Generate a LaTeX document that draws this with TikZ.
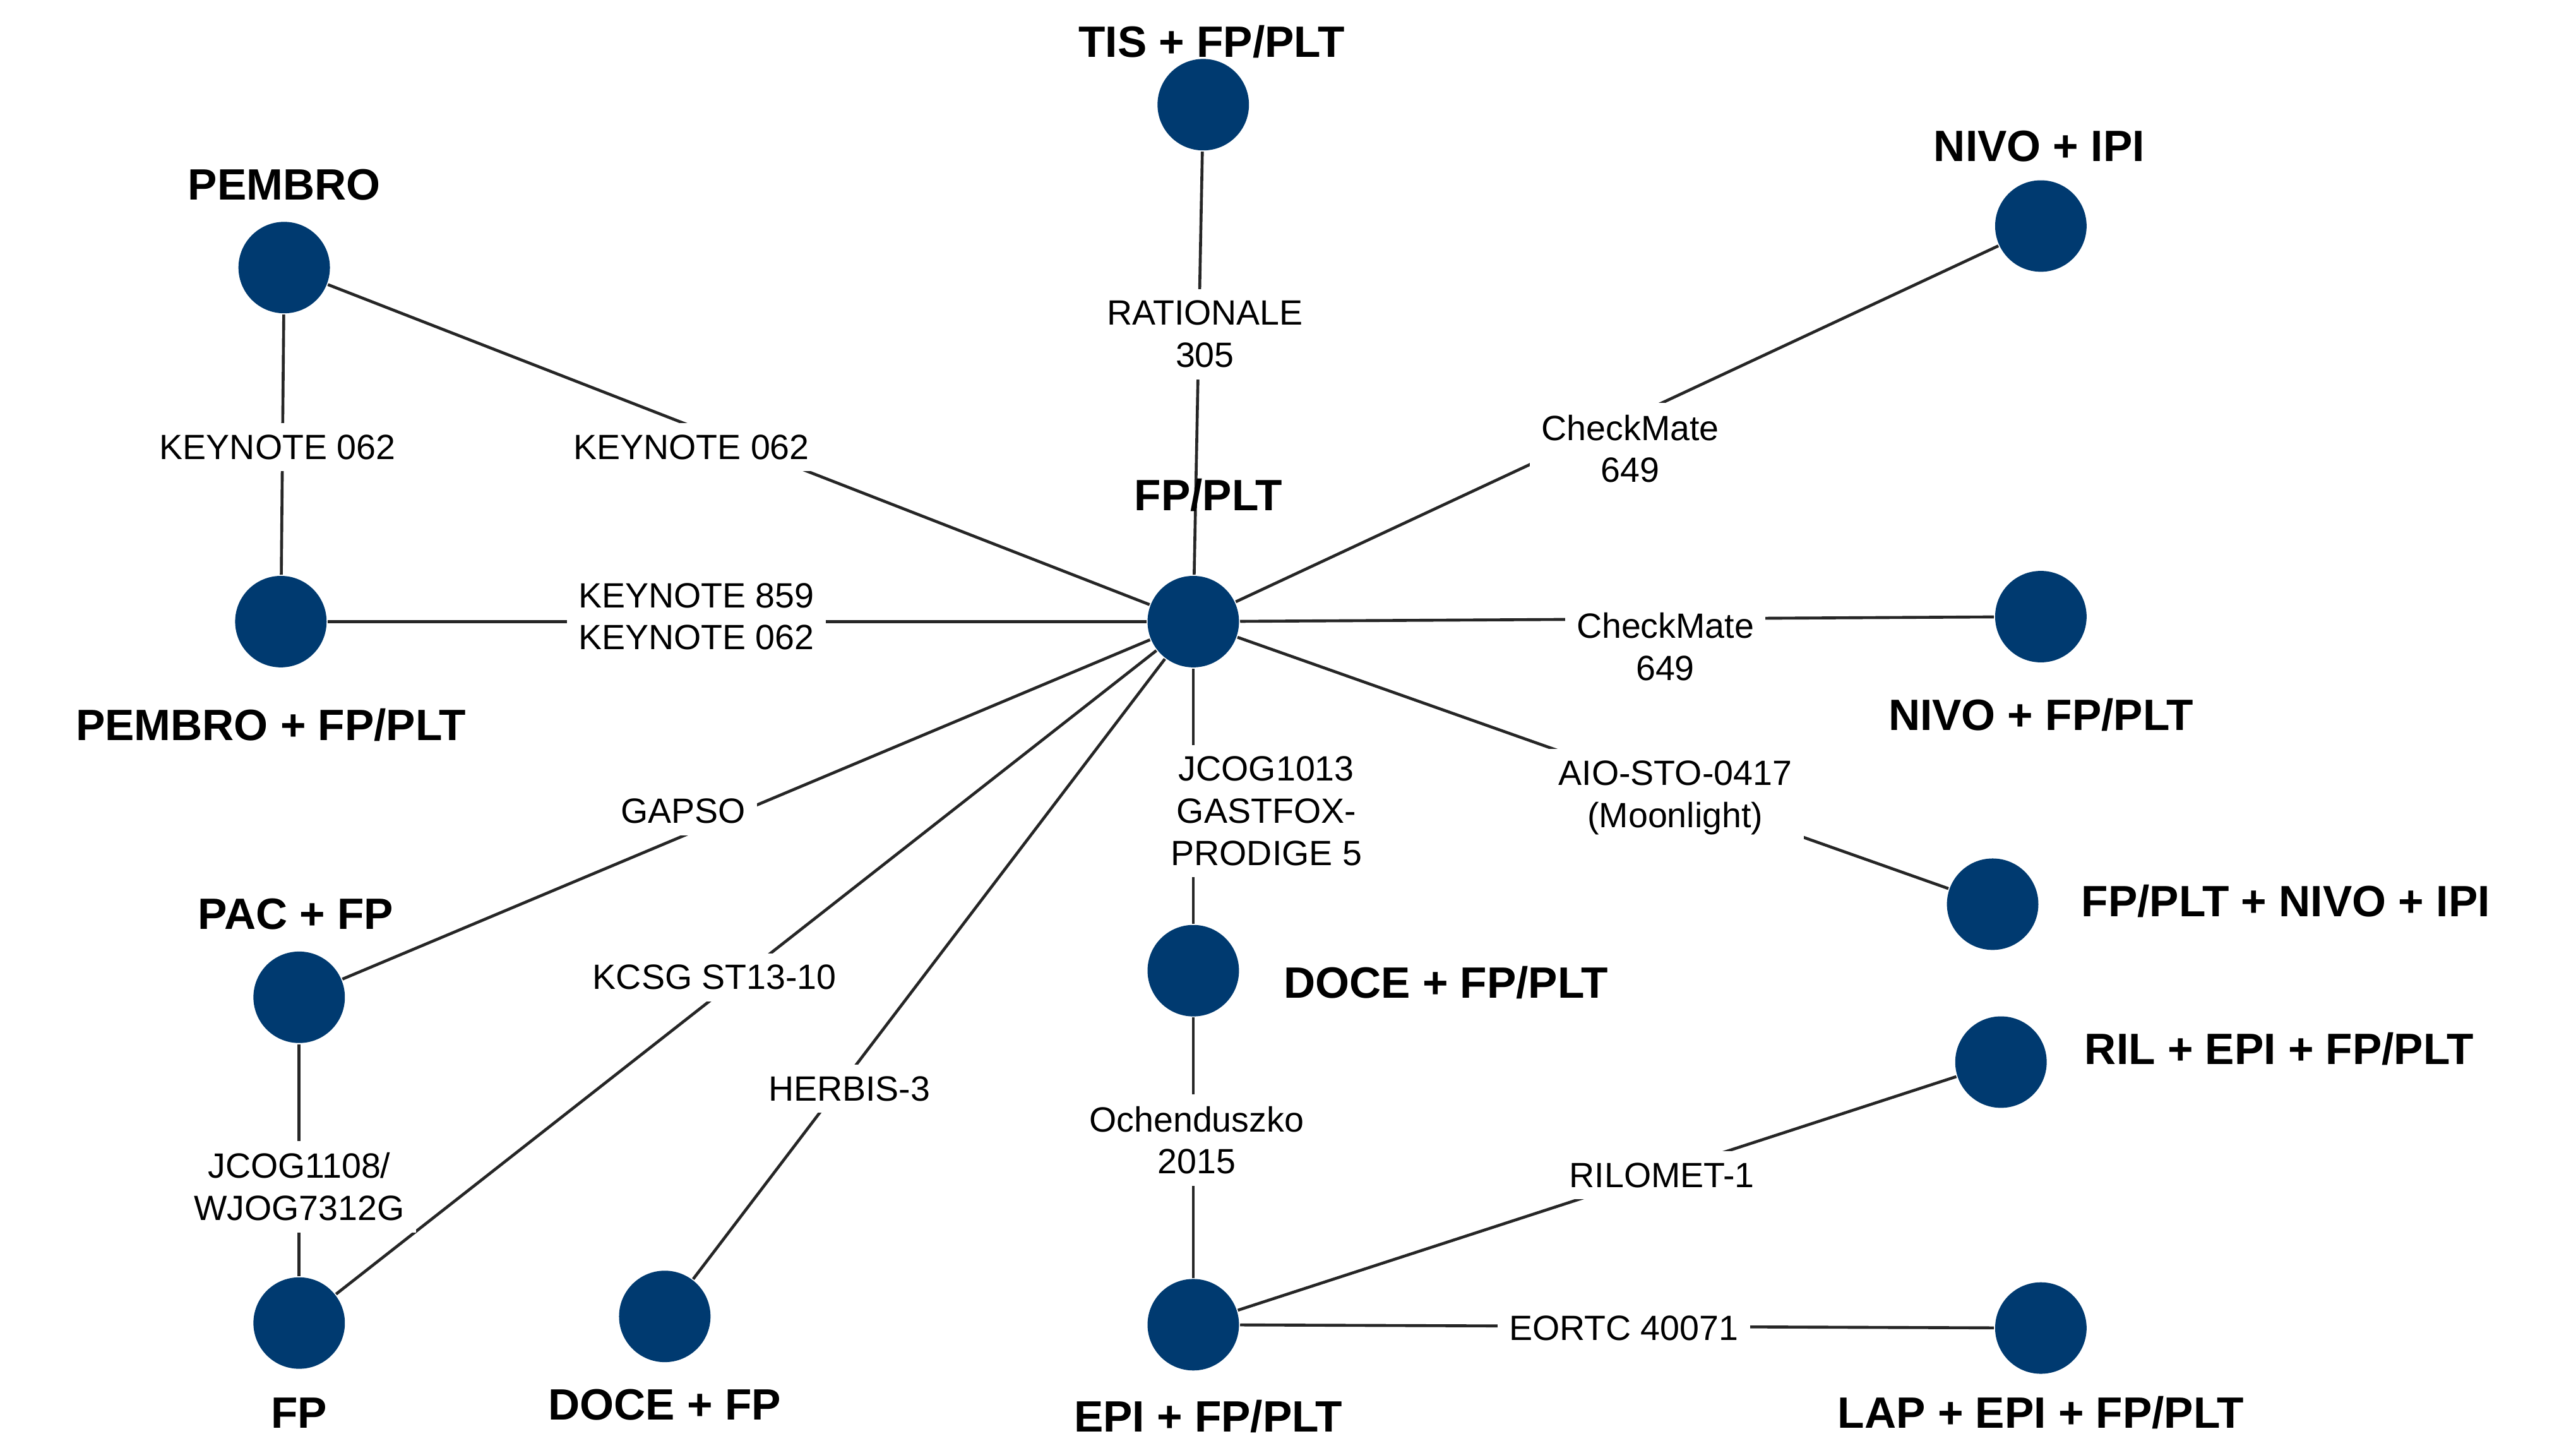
\documentclass[tikz,border=0pt]{standalone}
\usepackage{fontspec}
\setmainfont{Liberation Sans}
\begin{document}
\begin{tikzpicture}[x=0.01cm,y=-0.01cm,
  dot/.style={circle,fill=navy,minimum size=0.55cm,inner sep=0pt},
  big/.style={font=\fontsize{7.5}{9}\selectfont\bfseries},
  lab/.style={fill=white,align=center,inner sep=2pt,font=\fontsize{6}{7.2}\selectfont},
  edge/.style={draw=black!85,line width=0.5pt}]
\definecolor{navy}{HTML}{003A70}
\useasboundingbox (0,0) rectangle (1550,874);
\node[dot] (tis) at (724,63) {};
\node[dot] (pem) at (171,161) {};
\node[dot] (nivi) at (1228,136) {};
\node[dot] (fp) at (718,374) {};
\node[dot] (pemfp) at (169,374) {};
\node[dot] (nivfp) at (1228,371) {};
\node[dot] (fpni) at (1199,544) {};
\node[dot] (pac) at (180,600) {};
\node[dot] (docefp) at (718,584) {};
\node[dot] (ril) at (1204,639) {};
\node[dot] (fpo) at (180,796) {};
\node[dot] (doce) at (400,792) {};
\node[dot] (epi) at (718,797) {};
\node[dot] (lap) at (1228,799) {};
\begin{scope}[on background layer/.style={}]
\draw[edge] (tis)--(fp); \draw[edge] (pem)--(pemfp); \draw[edge] (pem)--(fp);
\draw[edge] (pemfp)--(fp); \draw[edge] (nivi)--(fp); \draw[edge] (nivfp)--(fp);
\draw[edge] (fpni)--(fp); \draw[edge] (pac)--(fp); \draw[edge] (fpo)--(fp);
\draw[edge] (doce)--(fp); \draw[edge] (docefp)--(fp); \draw[edge] (pac)--(fpo);
\draw[edge] (docefp)--(epi); \draw[edge] (epi)--(ril); \draw[edge] (epi)--(lap);
\end{scope}
\node[big] (l1) at (729,25) {TIS + FP/PLT};
\node[big] (l2) at (171,111) {PEMBRO};
\node[big] (l3) at (1227,88) {NIVO + IPI};
\node[big] (l4) at (727,298) {FP/PLT};
\node[big] (l5) at (163,436) {PEMBRO + FP/PLT};
\node[big] (l6) at (1228,430) {NIVO + FP/PLT};
\node[big,anchor=west] (l7) at (1240,542) {FP/PLT + NIVO + IPI};
\node[big] (l8) at (178,550) {PAC + FP};
\node[big,anchor=west] (l9) at (760,591) {DOCE + FP/PLT};
\node[big,anchor=west] (l10) at (1242,631) {RIL + EPI + FP/PLT};
\node[big] (l11) at (180,850) {FP};
\node[big] (l12) at (400,845) {DOCE + FP};
\node[big] (l13) at (727,852) {EPI + FP/PLT};
\node[big] (l14) at (1228,850) {LAP + EPI + FP/PLT};
\node[lab] (e1) at (725,201) {RATIONALE\\305};
\node[lab] (e2) at (167,269) {KEYNOTE 062};
\node[lab] (e3) at (416,269) {KEYNOTE 062};
\node[lab] (e4) at (419,371) {KEYNOTE 859\\KEYNOTE 062};
\node[lab] (e5) at (981,270) {CheckMate\\649};
\node[lab] (e6) at (1002,389) {CheckMate\\649};
\node[lab] (e7) at (1008,480) {AIO-STO-0417\\(Moonlight)};
\node[lab] (e8) at (411,488) {GAPSO};
\node[lab] (e9) at (430,588) {KCSG ST13-10};
\node[lab] (e10) at (511,655) {HERBIS-3};
\node[lab] (e11) at (762,488) {JCOG1013\\GASTFOX-\\PRODIGE 5};
\node[lab] (e12) at (180,714) {JCOG1108/\\WJOG7312G};
\node[lab] (e13) at (720,686) {Ochenduszko\\2015};
\node[lab] (e14) at (1000,707) {RILOMET-1};
\node[lab] (e15) at (977,799) {EORTC 40071};
\end{tikzpicture}
\end{document}
